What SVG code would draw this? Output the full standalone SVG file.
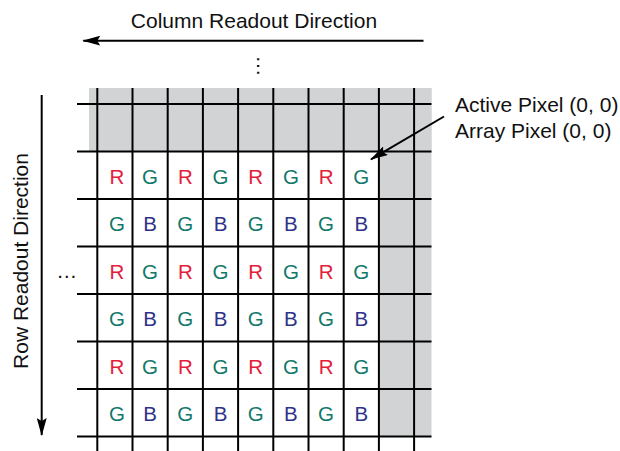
<svg xmlns="http://www.w3.org/2000/svg" width="620" height="451" viewBox="0 0 620 451">
<style>
  text { font-family: "Liberation Sans", Arial, sans-serif; font-size: 21px; fill: #111; }
  .grid line { stroke: #000; stroke-width: 2; }
  .gray { fill: #d1d3d4; }
  .cell text { text-anchor: middle; font-size: 20.5px; }
  .R { fill: #e3203a; }
  .G { fill: #12786a; }
  .B { fill: #2e3188; }
  .arrow { stroke: #000; stroke-width: 2; fill: none; }
</style>
<defs>
  <marker id="ah" viewBox="0 0 18 10" refX="17" refY="5" markerWidth="18" markerHeight="10" markerUnits="userSpaceOnUse" orient="auto">
    <path d="M0,0 L18,5 L0,10 L3,5 Z" fill="#000"/>
  </marker>
</defs>
<rect width="620" height="451" fill="#fff"/>
<g id="array">
  <rect class="gray" x="89" y="88" width="342.5" height="63.5"/>
  <rect class="gray" x="378.9" y="88" width="52.6" height="348.5"/>
  <g class="grid">
    <line x1="97.3" y1="88" x2="97.3" y2="451"/>
    <line x1="132.5" y1="88" x2="132.5" y2="451"/>
    <line x1="167.7" y1="88" x2="167.7" y2="451"/>
    <line x1="202.9" y1="88" x2="202.9" y2="451"/>
    <line x1="238.1" y1="88" x2="238.1" y2="451"/>
    <line x1="273.3" y1="88" x2="273.3" y2="451"/>
    <line x1="308.5" y1="88" x2="308.5" y2="451"/>
    <line x1="343.7" y1="88" x2="343.7" y2="451"/>
    <line x1="378.9" y1="88" x2="378.9" y2="451"/>
    <line x1="414.1" y1="88" x2="414.1" y2="451"/>
    <line x1="77" y1="104" x2="431.5" y2="104"/>
    <line x1="77" y1="151.5" x2="431.5" y2="151.5"/>
    <line x1="77" y1="199" x2="431.5" y2="199"/>
    <line x1="77" y1="246.5" x2="431.5" y2="246.5"/>
    <line x1="77" y1="294" x2="431.5" y2="294"/>
    <line x1="77" y1="341.5" x2="431.5" y2="341.5"/>
    <line x1="77" y1="389" x2="431.5" y2="389"/>
    <line x1="77" y1="436.5" x2="431.5" y2="436.5"/>
  </g>
  <g class="cell">
    <text class="R" x="117" y="183.8">R</text><text class="G" x="150.1" y="183.8">G</text><text class="R" x="185.3" y="183.8">R</text><text class="G" x="220.5" y="183.8">G</text><text class="R" x="255.7" y="183.8">R</text><text class="G" x="290.9" y="183.8">G</text><text class="R" x="326.1" y="183.8">R</text><text class="G" x="361.3" y="183.8">G</text>
    <text class="G" x="117" y="231.3">G</text><text class="B" x="150.1" y="231.3">B</text><text class="G" x="185.3" y="231.3">G</text><text class="B" x="220.5" y="231.3">B</text><text class="G" x="255.7" y="231.3">G</text><text class="B" x="290.9" y="231.3">B</text><text class="G" x="326.1" y="231.3">G</text><text class="B" x="361.3" y="231.3">B</text>
    <text class="R" x="117" y="278.8">R</text><text class="G" x="150.1" y="278.8">G</text><text class="R" x="185.3" y="278.8">R</text><text class="G" x="220.5" y="278.8">G</text><text class="R" x="255.7" y="278.8">R</text><text class="G" x="290.9" y="278.8">G</text><text class="R" x="326.1" y="278.8">R</text><text class="G" x="361.3" y="278.8">G</text>
    <text class="G" x="117" y="326.3">G</text><text class="B" x="150.1" y="326.3">B</text><text class="G" x="185.3" y="326.3">G</text><text class="B" x="220.5" y="326.3">B</text><text class="G" x="255.7" y="326.3">G</text><text class="B" x="290.9" y="326.3">B</text><text class="G" x="326.1" y="326.3">G</text><text class="B" x="361.3" y="326.3">B</text>
    <text class="R" x="117" y="373.8">R</text><text class="G" x="150.1" y="373.8">G</text><text class="R" x="185.3" y="373.8">R</text><text class="G" x="220.5" y="373.8">G</text><text class="R" x="255.7" y="373.8">R</text><text class="G" x="290.9" y="373.8">G</text><text class="R" x="326.1" y="373.8">R</text><text class="G" x="361.3" y="373.8">G</text>
    <text class="G" x="117" y="421.3">G</text><text class="B" x="150.1" y="421.3">B</text><text class="G" x="185.3" y="421.3">G</text><text class="B" x="220.5" y="421.3">B</text><text class="G" x="255.7" y="421.3">G</text><text class="B" x="290.9" y="421.3">B</text><text class="G" x="326.1" y="421.3">G</text><text class="B" x="361.3" y="421.3">B</text>
  </g>
</g>
<g id="connectors">
  <line class="arrow" x1="423.5" y1="40.7" x2="83.3" y2="40.7" marker-end="url(#ah)"/>
  <line class="arrow" x1="41.7" y1="95" x2="41.7" y2="435" marker-end="url(#ah)"/>
  <line class="arrow" x1="444" y1="116.5" x2="371" y2="159.3" marker-end="url(#ah)"/>
</g>
<g id="column-label">
  <text x="254" y="28" text-anchor="middle">Column Readout Direction</text>
</g>
<g id="row-label">
  <text transform="translate(28,261) rotate(-90)" text-anchor="middle">Row Readout Direction</text>
</g>
<g id="pixel-label">
  <text x="455" y="111.5">Active Pixel (0, 0)</text>
  <text x="455" y="138">Array Pixel (0, 0)</text>
</g>
<g id="ellipses">
  <text transform="translate(257,66) rotate(90)" text-anchor="middle">…</text>
  <text x="66.7" y="278" text-anchor="middle">…</text>
</g>
</svg>
